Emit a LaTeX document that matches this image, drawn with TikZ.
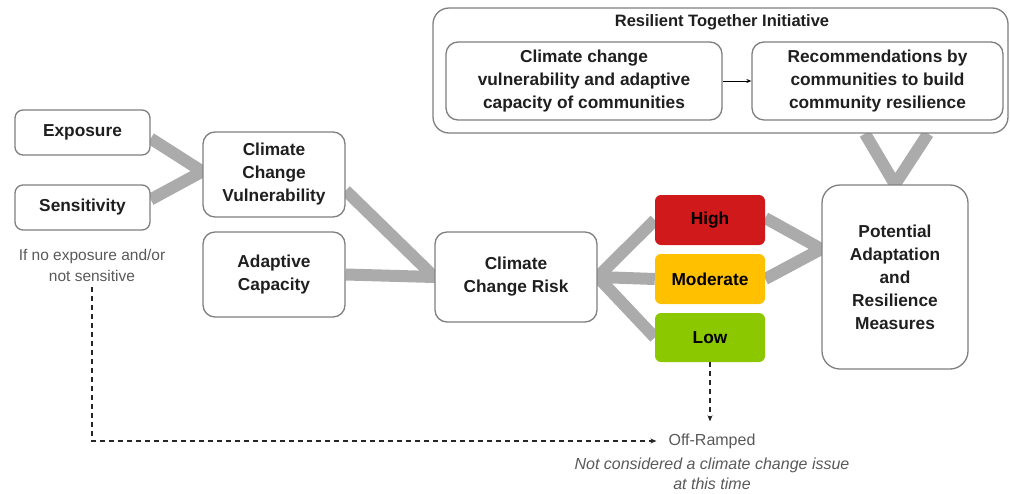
\documentclass[tikz,border=0pt]{standalone}
\usepackage{fontspec}
\setmainfont{Liberation Sans}
\usetikzlibrary{arrows.meta,backgrounds,calc}
\definecolor{bandgray}{HTML}{ABABAB}
\definecolor{boxline}{HTML}{7F7F7F}
\definecolor{txt}{HTML}{1F1F1F}
\definecolor{notegray}{HTML}{595959}
\definecolor{hired}{HTML}{D0191B}
\definecolor{modyel}{HTML}{FFC000}
\definecolor{lowgrn}{HTML}{8CC800}
\begin{document}
\begin{tikzpicture}[x=1pt,y=-1pt,
  box/.style={draw=boxline,line width=1.3pt,rounded corners=10pt,fill=white,align=center,
    font=\fontsize{17.3}{23}\selectfont\bfseries,text=txt,inner sep=0pt},
  riskbox/.style={rounded corners=6pt,minimum width=110pt,minimum height=50pt,align=center,
    font=\fontsize{17.3}{23}\selectfont\bfseries,text=black,inner sep=0pt},
  band/.style={draw=bandgray,line width=12pt,line join=miter},
  dashline/.style={draw=black!85,line width=1.4pt,dash pattern=on 5pt off 4pt},
  tip/.style={-{Stealth[length=6pt,width=5pt]}},
  note/.style={align=center,text=notegray,inner sep=0pt}]
\useasboundingbox (0,0) rectangle (1010,493);

% top group
\node[box,rounded corners=16pt,minimum width=575pt,minimum height=125pt] (top) at (720.5,70.5) {};
\node[font=\fontsize{16.5}{20}\selectfont\bfseries,text=txt,inner sep=0pt] (title) at (722,22) {Resilient Together Initiative};
\node[box,rounded corners=12pt,minimum width=276pt,minimum height=78pt] (inL) at (584,81)
  {Climate change\\vulnerability and adaptive\\capacity of communities};
\node[box,rounded corners=12pt,minimum width=251pt,minimum height=78pt] (inR) at (877.5,81)
  {Recommendations by\\communities to build\\community resilience};
\draw[line width=1pt,-{Stealth[length=5pt,width=4pt]}] (inL) -- (inR);

% left chain
\node[box,rounded corners=8pt,minimum width=135pt,minimum height=45pt] (expo) at (82.5,132.5) {Exposure};
\node[box,rounded corners=8pt,minimum width=135pt,minimum height=45pt] (sens) at (82.5,207.5) {Sensitivity};
\node[box,rounded corners=12pt,minimum width=142pt,minimum height=85pt] (ccv) at (274,174.5) {Climate\\Change\\Vulnerability};
\node[box,rounded corners=12pt,minimum width=142pt,minimum height=85pt] (adap) at (274,274.5) {Adaptive\\Capacity};
\node[box,rounded corners=12pt,minimum width=162pt,minimum height=90pt] (ccr) at (516,277) {Climate\\Change Risk};

% risk levels
\node[riskbox,fill=hired] (high) at (710,220) {High};
\node[riskbox,fill=modyel] (mod) at (710,279) {Moderate};
\node[riskbox,fill=lowgrn,minimum height=49pt] (low) at (710,337.5) {Low};

\node[box,rounded corners=18pt,minimum width=146pt,minimum height=184pt] (pot) at (895,277)
  {Potential\\Adaptation\\and\\Resilience\\Measures};

% notes
\node[note,font=\fontsize{15.5}{21}\selectfont] (note) at (92,265) {If no exposure and/or\\not sensitive};
\node[note,font=\fontsize{16}{20}\selectfont] (off) at (712,441) {Off-Ramped};
\node[note,font=\fontsize{16}{19.5}\selectfont\itshape] (offnote) at (712,474)
  {Not considered a climate change issue\\at this time};
\coordinate (offtop) at ([yshift=12pt]off.north);

% grey bands
\begin{pgfonlayer}{background}
\draw[band] ([yshift=-6pt]expo.east) -- ([yshift=3pt]ccv.west) -- ([yshift=8pt]sens.east);
\draw[band] ([yshift=-16pt]ccv.east) -- (ccr.west) -- (adap.east);
\draw[band] (high.west) -- (ccr.east) -- (low.west);
\draw[band] (ccr.east) -- (mod.west);
\draw[band] ([yshift=2pt]high.east) -- ([yshift=28pt]pot.west) -- (mod.east);
\draw[band] ($(pot.north |- top.south)+(-30,0)$) -- (pot.north) -- ($(pot.north |- top.south)+(33,0)$);
\end{pgfonlayer}

% dashed off-ramps
\draw[dashline,tip] ([yshift=-6pt]note.south) |- ([xshift=-12pt]off.west);
\draw[dashline,tip] (low.south) -- (low.south |- offtop);
\end{tikzpicture}
\end{document}
